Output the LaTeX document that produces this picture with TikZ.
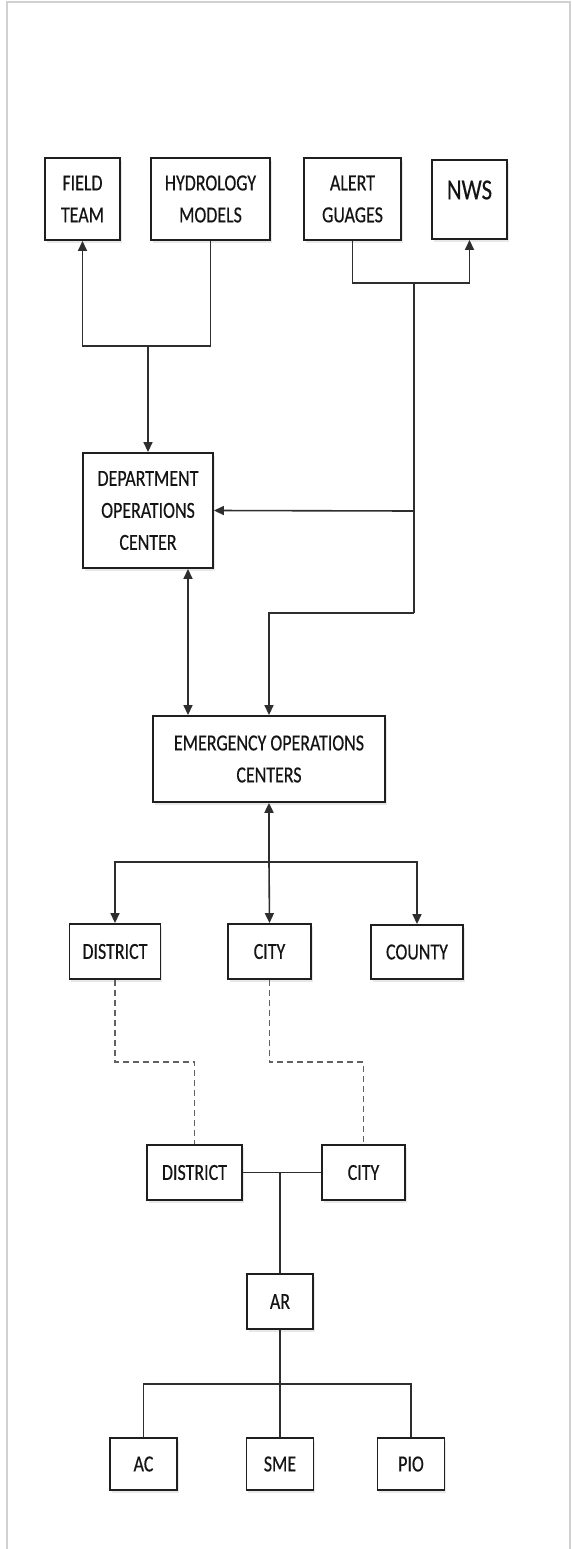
\documentclass[tikz,border=0pt]{standalone}
\usepackage{fontspec}
\setmainfont{Carlito}[FakeStretch=0.78,FakeBold=0.4]
\usetikzlibrary{arrows.meta,shadows}
\begin{document}
\begin{tikzpicture}[x=1pt,y=-1pt,
  box/.style={draw=black!88, line width=1.9pt, fill=white, inner sep=0pt, align=center,
    text=black!92, font=\fontsize{23}{32}\selectfont,
    drop shadow={opacity=0.18, shadow xshift=1.5pt, shadow yshift=-3pt}},
  conn/.style={line width=1.6pt, draw=black!82},
  tip/.style={-{Triangle[length=10pt,width=9pt]}},
  dtip/.style={{Triangle[length=10pt,width=9pt]}-{Triangle[length=10pt,width=9pt]}},
  dsh/.style={line width=1.5pt, draw=black!62, dash pattern=on 6pt off 4pt}]
\useasboundingbox (0,0) rectangle (572,1549);
\fill[white] (0,0) rectangle (572,1549);
\draw[draw=black!18, line width=1.5pt] (7,1549) -- (7,2) -- (570,2) -- (570,1549);

% top row
\node[box, minimum width=75pt, minimum height=82pt] (field) at (82.5,199) {FIELD\\TEAM};
\node[box, minimum width=119pt, minimum height=82pt] (hydro) at (210.5,199) {HYDROLOGY\\MODELS};
\node[box, minimum width=97pt, minimum height=82pt] (alert) at (352.5,199) {ALERT\\GUAGES};
\node[box, minimum width=75pt, minimum height=79pt] (nws) at (469.5,199.5) {};
\node[text=black!92, font=\fontsize{29}{34}\selectfont] (nwst) at (469.5,190) {NWS};

\node[box, minimum width=130pt, minimum height=115pt] (doc) at (148,510.5) {DEPARTMENT\\OPERATIONS\\CENTER};
\node[box, minimum width=232pt, minimum height=86pt] (eoc) at (269,759) {EMERGENCY OPERATIONS\\CENTERS};

\node[box, minimum width=91pt, minimum height=55pt] (dist1) at (115,951.5) {DISTRICT};
\node[box, minimum width=83pt, minimum height=55pt] (city1) at (269.5,951.5) {CITY};
\node[box, minimum width=92pt, minimum height=54pt] (county) at (417,952) {COUNTY};

\node[box, minimum width=95pt, minimum height=55pt] (dist2) at (194.5,1172.5) {DISTRICT};
\node[box, minimum width=83pt, minimum height=55pt] (city2) at (363.5,1172.5) {CITY};

\node[box, minimum width=66pt, minimum height=55pt] (ar) at (280,1301.5) {AR};
\node[box, minimum width=67pt, minimum height=52pt] (ac) at (143.5,1464) {AC};
\node[box, minimum width=67pt, minimum height=52pt] (sme) at (280,1464) {SME};
\node[box, minimum width=67pt, minimum height=52pt] (pio) at (411,1464) {PIO};

% junction coordinates
\coordinate (j1) at (148,346);
\coordinate (j2) at (414,283);
\coordinate (j3) at (414,511);
\coordinate (j4) at (414,613);
\coordinate (k) at (188,0);
\coordinate (j5) at (269,862);
\coordinate (dy) at (0,1062);
\coordinate (j7) at (280,1384);

% connectors
\draw[conn,tip] (hydro.south) |- (j1) -| (field.south);
\draw[conn,tip] (j1) -- (doc.north);
\draw[conn,tip] (alert.south) |- (j2) -| (nws.south);
\draw[conn] (j2) -- (j4);
\draw[conn,tip] (j3) -- (doc.east);
\draw[conn,tip] (j4) -| (eoc.north);
\draw[conn,dtip] (doc.south -| k) -- (eoc.north -| k);

\draw[conn,line width=2.2pt,tip] (j5) -- (eoc.south);
\draw[conn,tip] (j5) -| (dist1.north);
\draw[conn,tip] (j5) -- (city1.north);
\draw[conn,tip] (j5) -| (county.north);

\draw[dsh] (dist1.south) -- (dist1.south |- dy) -| (dist2.north);
\draw[dsh] (city1.south) -- (city1.south |- dy) -| (city2.north);

\draw[conn] (dist2.east) -- (city2.west);
\draw[conn] (ar.north |- dist2.east) -- (ar.north);
\draw[conn] (ar.south) -- (sme.north);
\draw[conn] (ac.north) |- (j7) -| (pio.north);
\end{tikzpicture}
\end{document}
